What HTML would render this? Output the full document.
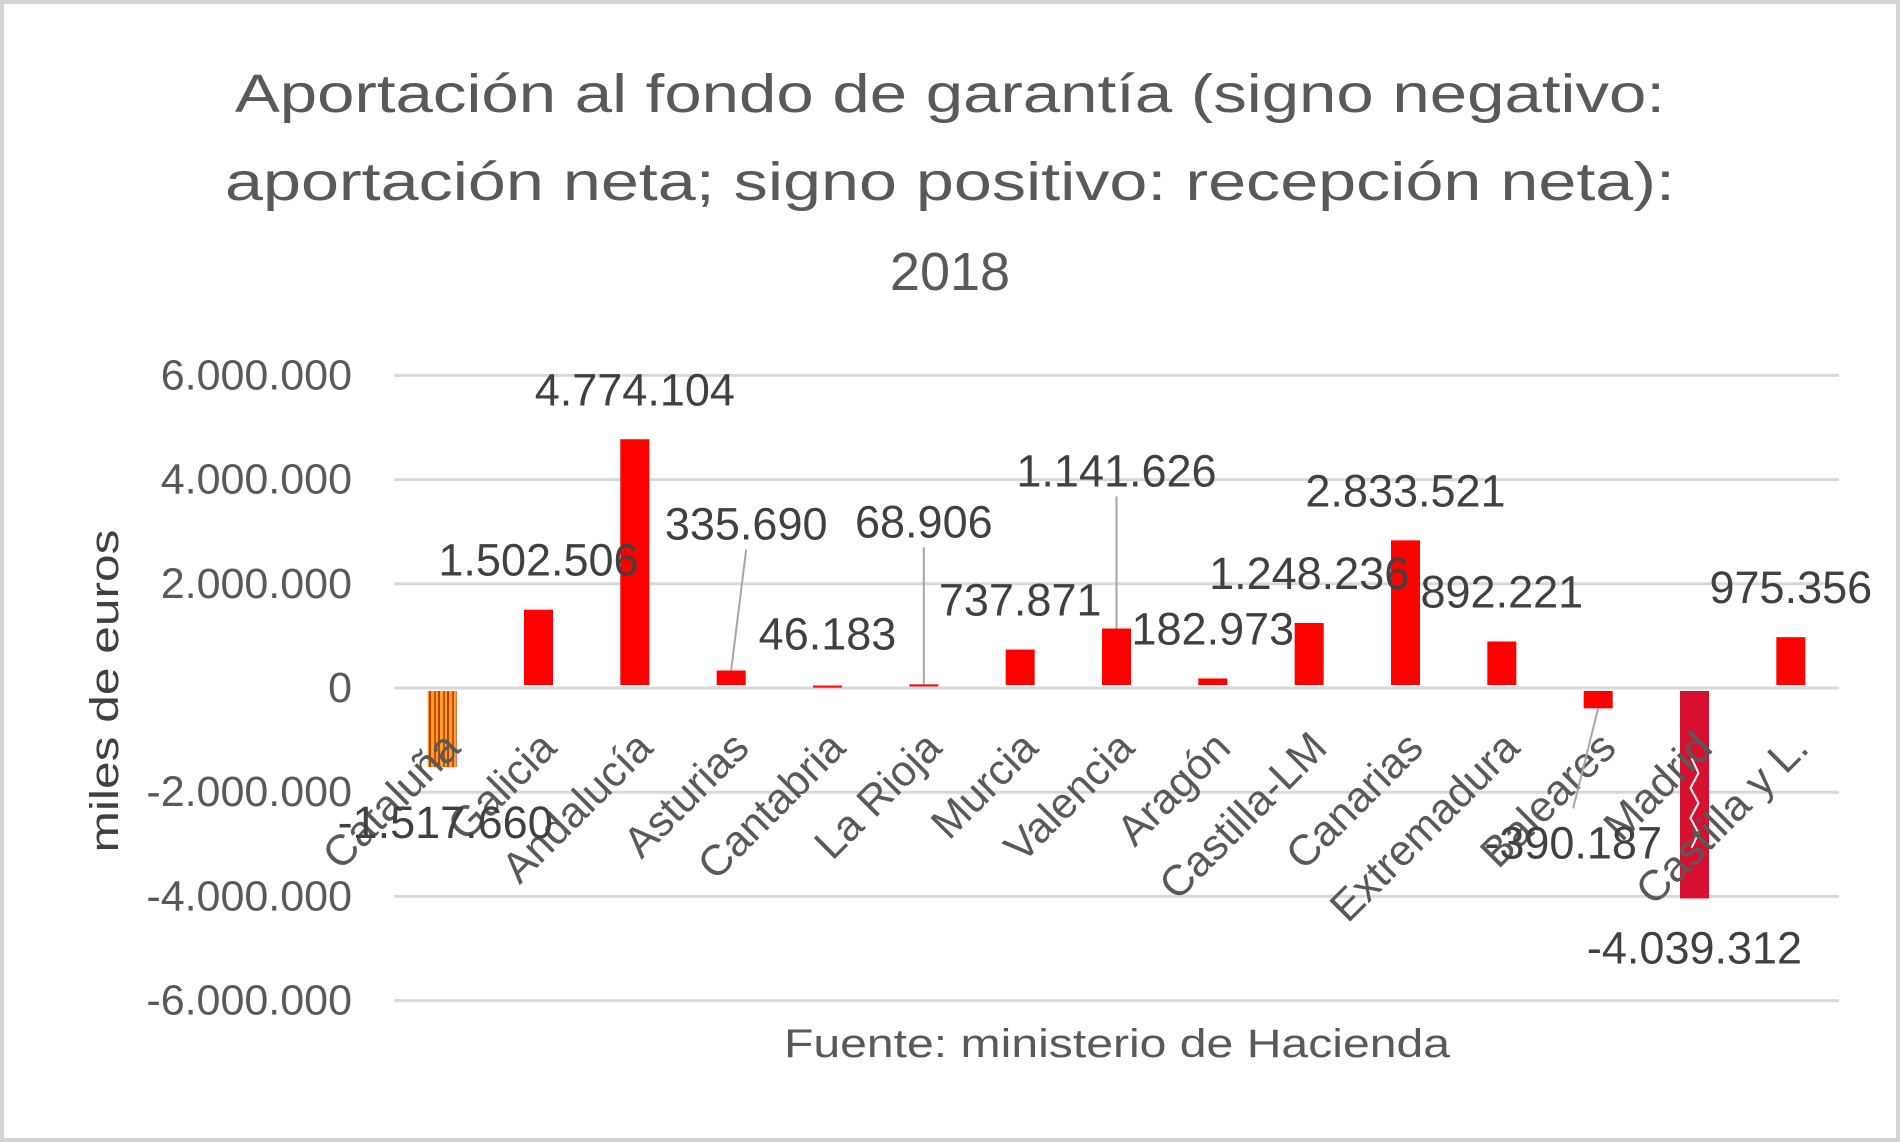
<!DOCTYPE html>
<html><head><meta charset="utf-8"><style>
html,body{margin:0;padding:0;background:#fff}
svg{display:block;font-family:"Liberation Sans",sans-serif}
</style></head><body>
<svg id="chart" width="1900" height="1142" viewBox="0 0 1900 1142" xmlns="http://www.w3.org/2000/svg">
<defs>
<pattern id="senyera" patternUnits="userSpaceOnUse" width="9" height="10">
<rect width="9" height="10" fill="#f6a623"/><rect x="2" width="2" height="10" fill="#d9480f"/><rect x="6" width="2" height="10" fill="#c8360c"/>
</pattern>
</defs>
<rect x="2" y="2" width="1896" height="1138" fill="#fff" stroke="#d4d4d4" stroke-width="4"/>
<g fill="#595959" font-size="54" text-anchor="middle">
<text x="950" y="112" textLength="1430" lengthAdjust="spacingAndGlyphs">Aportación al fondo de garantía (signo negativo:</text>
<text x="950" y="200" textLength="1450" lengthAdjust="spacingAndGlyphs">aportación neta; signo positivo: recepción neta):</text>
<text x="950" y="290">2018</text>
</g>
<text transform="translate(118,691) rotate(-90)" text-anchor="middle" font-size="40" fill="#404040" textLength="323" lengthAdjust="spacingAndGlyphs">miles de euros</text>
<text x="1117" y="1057" text-anchor="middle" font-size="40" fill="#595959" textLength="666" lengthAdjust="spacingAndGlyphs">Fuente: ministerio de Hacienda</text>
<g id="grid"></g><g id="bars"></g><g id="cats"></g><g id="labels"></g>
</svg>
<script>
const categories=["Cataluña","Galicia","Andalucía","Asturias","Cantabria","La Rioja","Murcia","Valencia","Aragón","Castilla-LM","Canarias","Extremadura","Baleares","Madrid","Castilla y L."];
const values=[-1517660,1502506,4774104,335690,46183,68906,737871,1141626,182973,1248236,2833521,892221,-390187,-4039312,975356];
const valueLabels=["-1.517.660","1.502.506","4.774.104","335.690","46.183","68.906","737.871","1.141.626","182.973","1.248.236","2.833.521","892.221","-390.187","-4.039.312","975.356"];
const ticks=[6000000,4000000,2000000,0,-2000000,-4000000,-6000000];
const tickLabels=["6.000.000","4.000.000","2.000.000","0","-2.000.000","-4.000.000","-6.000.000"];
const NS="http://www.w3.org/2000/svg";
const L=394,R=1839,Y0=688,PX=52.1/1e6;
const y=v=>Y0-v*PX;
const bw=(R-L)/categories.length;
const cx=i=>L+bw*(i+0.5);
function mk(t,a,p){const e=document.createElementNS(NS,t);for(const k in a)e.setAttribute(k,a[k]);p.appendChild(e);return e;}
const grid=document.getElementById('grid'),bars=document.getElementById('bars'),cats=document.getElementById('cats'),labs=document.getElementById('labels');
ticks.forEach((t,i)=>{
 const ln=mk('line',{x1:L,x2:R,y1:y(t),y2:y(t),stroke:'#d9d9d9','stroke-width':3},grid);
 
 
 const tx=mk('text',{x:352,y:y(t)+14,'text-anchor':'end','font-size':43,fill:'#595959'},grid);
 tx.textContent=tickLabels[i];
 
 
});
const dx=[0,0,0,15,0,0,0,0,0,0,0,0,-25,0,0];
const dyTop=[0,0,0,-97,-2,-113,0,-108,0,0,0,0,0,0,0];
values.forEach((v,i)=>{
 const w=29,x=cx(i)-w/2;
 const top=v>=0?y(v):Y0+3, h=Math.max(2,Math.abs(y(v)-Y0)-3);
 let fill='#ff0000';
 if(i===0)fill='url(#senyera)';
 if(i===13)fill='#d8102f';
 const b=mk('rect',{x:x,y:v>=0?top:Y0+3,width:w,height:h,fill:fill},bars);
 
 
 if(i===13){
  const z=mk('polyline',{points:`${cx(i)-3},${Y0+70} ${cx(i)+4},${Y0+85} ${cx(i)-4},${Y0+100} ${cx(i)+4},${Y0+115} ${cx(i)-4},${Y0+130} ${cx(i)+4},${Y0+145} ${cx(i)-3},${Y0+160}`,fill:'none',stroke:'#fff','stroke-width':2},bars);
  
  
 }
 const c=mk('text',{transform:`translate(${cx(i)+20},${Y0+62}) rotate(-45)`,'text-anchor':'end','font-size':43,fill:'#595959'},cats);
 c.textContent=categories[i];
 
 
 let lx=cx(i)+dx[i], ly;
 if(v>=0) ly=y(v)-34+dyTop[i];
 else ly=y(v)+(i===13?65:i===12?150:55);
 if(i===0){lx=cx(i)+3;ly=Y0+150;}
 const t=mk('text',{x:lx,y:ly,'text-anchor':'middle','font-size':45,fill:'#404040'},labs);
 t.textContent=valueLabels[i];
 
 
 if([3,5,7,12].includes(i)){
  const y1=v>=0?ly+10:ly-50, y2=v>=0?y(v):Y0+3+h;
  const ll=mk('line',{x1:lx,y1:y1,x2:cx(i),y2:y2,stroke:'#a6a6a6','stroke-width':2},labs);
  
  
 }
});
</script>
</body></html>
